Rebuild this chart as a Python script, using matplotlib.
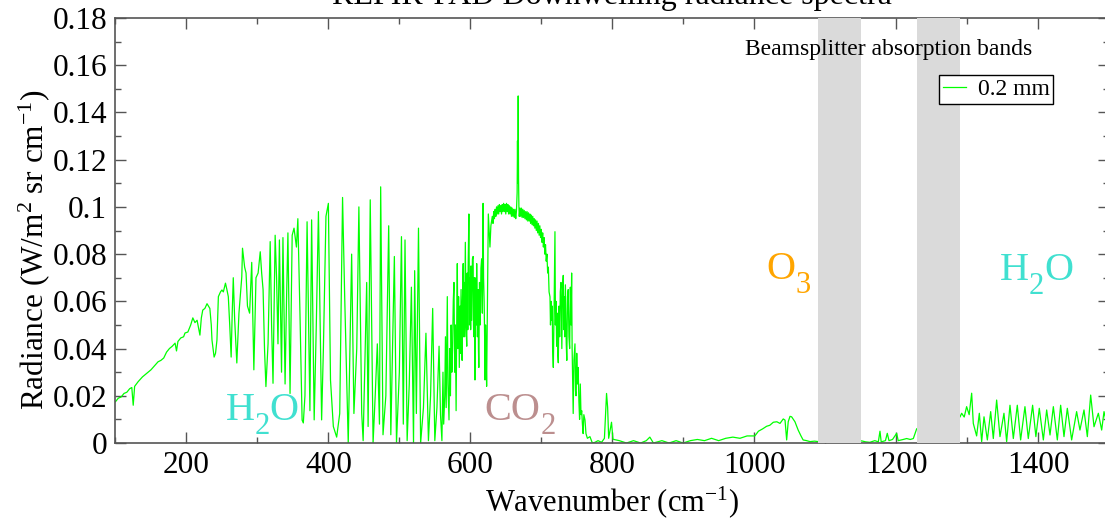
import matplotlib
matplotlib.use("Agg")
import matplotlib.pyplot as plt
import matplotlib.transforms as mtransforms
from matplotlib.ticker import MultipleLocator, FuncFormatter
from matplotlib.lines import Line2D

plt.rcParams['font.family'] = ['Liberation Serif', 'DejaVu Serif']
plt.rcParams['mathtext.fontset'] = 'custom'
plt.rcParams['mathtext.rm'] = 'Liberation Serif'
plt.rcParams['mathtext.it'] = 'Liberation Serif:italic'

# Downwelling radiance spectrum (wavenumber in cm-1, radiance in W/m2 sr cm-1)
wavenumber = [
    100, 104, 108, 112, 116, 120, 123, 125, 127, 132, 138, 144, 150, 156, 160, 164, 168, 172,
    176, 180, 184, 186, 188, 192, 196, 198, 202, 206, 209, 212, 215, 219, 221, 223, 226, 229,
    231, 233, 235, 236, 239, 241, 243, 245, 248, 250, 252, 255, 257, 259, 261, 263, 264.5, 266,
    268, 271, 274, 278, 279, 282, 284, 286, 289, 292, 295, 298, 301, 304, 306, 308, 310, 312,
    315, 318, 320, 322, 325, 327, 329, 331, 334, 336, 339, 341, 343, 346, 349, 351.6, 355, 357,
    360, 363, 364.7, 367, 370, 374, 376.4, 380, 383, 386, 390.5, 393, 396.6, 400, 403, 407,
    411.7, 416, 420, 423, 428, 432.8, 436, 440, 443, 447, 449, 454, 456, 459, 463, 466, 469,
    472, 473.7, 477, 481, 485, 488, 493, 496, 500, 503, 505.6, 508, 511, 514, 517, 520, 521.6,
    524, 527, 530, 534, 537.5, 541, 544, 547, 550, 553, 556, 558, 560, 561.5, 562.5, 564, 565,
    566, 567.6, 568.5, 570, 571, 572, 573, 574,
    575, 576, 577, 578, 579, 580, 581, 581.7, 582.5, 583.5, 584.5, 585.5, 586, 587, 588, 588.5,
    589, 590, 590.5, 591.5, 592, 593, 594, 595, 595.7, 596.5, 597, 598, 599, 600, 600.5, 601,
    602, 603, 604, 604.5, 605, 605.7, 606.6, 607.3, 608, 608.5, 609, 610, 611, 611.5, 612, 613,
    614, 615, 616, 617, 618, 618.7, 619.5, 620.2, 620.7, 621.5, 622.2, 623, 624.2,
    625.4, 626.5, 627.7, 629, 630, 631, 632, 633, 634, 635, 636, 637, 638, 639, 640, 641, 642,
    643, 644, 645, 646, 647, 648, 649, 650, 651, 652, 653, 654, 655, 656, 657, 658, 659, 660,
    661, 662, 663, 664, 665, 666, 666.5, 667, 667.5, 668, 668.5, 669, 670, 671, 672, 673, 674,
    675, 676, 677, 678, 679, 680, 681, 682, 683, 684, 685, 686, 687, 688, 689, 690, 691, 692,
    693, 694, 695, 696, 697, 698, 699, 700, 701, 702, 703, 704, 705, 706, 707, 708, 709, 710,
    711, 712.3, 713, 714, 714.6, 715.5, 716, 717, 718, 719.3, 720, 720.8, 721.7, 722.5, 723.2,
    724, 725, 726, 726.8, 727.8, 728.5, 729, 730, 731, 731.8, 732.5, 733, 734, 734.4, 735.2,
    736, 737, 738, 739, 740, 741, 742, 742.8, 743.5, 744, 745, 746, 747.5, 748.3, 749, 750,
    751, 752, 753, 754, 755, 756, 757, 758, 759, 760, 761.6, 763, 765, 768.6, 772, 775.7,
    780, 785, 789, 792, 793.5, 795, 799, 801, 810, 820, 830, 840, 848, 853, 858, 870, 880, 890,
    900, 910, 920, 930, 940, 950, 960, 970, 980, 990, 1001, 1006, 1012, 1017.6, 1022, 1027,
    1032, 1036.4, 1041, 1043.5, 1045.8, 1048, 1050.5, 1052.8, 1057.5, 1062, 1066, 1069, 1074,
    1078.7, 1085, 1090.4, 1100, 1120, 1140, 1151.5, 1157, 1163, 1170, 1175, 1177.3, 1179, 1185,
    1187.6, 1190, 1195, 1200.8, 1203, 1210, 1214.9, 1220, 1224.3, 1229, 1250, 1270, 1290,
    1292.4, 1296, 1299.4, 1303, 1306.5, 1308.8, 1313.5, 1317.3, 1320.6, 1323.9, 1328.6, 1333.3,
    1337, 1341.7, 1346.4, 1352, 1355.8, 1360.5, 1365.2, 1370.8, 1375.5, 1381.6, 1386.3, 1392.4,
    1397, 1401.8, 1407.5, 1412.2, 1416.9, 1421.6, 1427.2, 1431.9, 1436.6, 1441.3, 1447.4,
    1454.4, 1459.1, 1464.8, 1469.5, 1474.2, 1478.9, 1485, 1489.7, 1493, 1497, 1500,
]
radiance = [
    0.0175, 0.019, 0.0195, 0.021, 0.0215, 0.023, 0.0235, 0.016, 0.024, 0.026, 0.028, 0.0295,
    0.031, 0.033, 0.0344, 0.035, 0.036, 0.0385, 0.040, 0.041, 0.0423, 0.039, 0.043, 0.0445,
    0.045, 0.0466, 0.047, 0.050, 0.053, 0.051, 0.052, 0.0457, 0.053, 0.0563, 0.057, 0.059,
    0.058, 0.057, 0.050, 0.0436, 0.0364, 0.038, 0.0436, 0.062, 0.064, 0.0648, 0.064, 0.0677,
    0.065, 0.062, 0.050, 0.0364, 0.055, 0.070, 0.052, 0.0339, 0.055, 0.0704, 0.0825, 0.0745,
    0.072, 0.058, 0.055, 0.0765, 0.031, 0.070, 0.072, 0.081, 0.072, 0.065, 0.040, 0.0239,
    0.042, 0.0853, 0.050, 0.0253, 0.088, 0.070, 0.042, 0.086, 0.030, 0.087, 0.025, 0.060,
    0.089, 0.021, 0.088, 0.091, 0.083, 0.095, 0.0545, 0.0097, 0.0085, 0.020, 0.0937, 0.0137,
    0.0945, 0.0098, 0.050, 0.098, 0.0098, 0.040, 0.096, 0.1015, 0.0267, 0.007, 0.0025, 0.0125,
    0.104, 0.062, 0.000, 0.080, 0.0125, 0.040, 0.100, 0.0125, 0.001, 0.068, 0.007, 0.103,
    0.000, 0.020, 0.042, 0.008, 0.1085, 0.0035, 0.020, 0.092, 0.0035, 0.079, 0.000, 0.030,
    0.0874, 0.008, 0.086, 0.001, 0.025, 0.066, 0.000, 0.073, 0.0125, 0.091, 0.000, 0.015,
    0.0465, 0.001, 0.020, 0.057, 0.001, 0.015, 0.041, 0.012, 0.001, 0.030, 0.008, 0.020, 0.045,
    0.015, 0.062, 0.025, 0.0098, 0.040, 0.020, 0.050, 0.030,
    0.040, 0.060, 0.068, 0.030, 0.050, 0.0137, 0.055, 0.076, 0.040, 0.062, 0.032, 0.058,
    0.038, 0.065, 0.042, 0.035, 0.060, 0.076, 0.045, 0.068, 0.045, 0.085, 0.050, 0.041,
    0.072, 0.048, 0.075, 0.097, 0.050, 0.070, 0.048, 0.075, 0.052, 0.078, 0.079, 0.050,
    0.045, 0.070, 0.0267, 0.062, 0.070, 0.050, 0.076, 0.045, 0.065, 0.040, 0.032, 0.068,
    0.050, 0.074, 0.078, 0.055, 0.1015, 0.070, 0.060, 0.045, 0.0267, 0.050, 0.040, 0.024,
    0.060,
    0.097, 0.090, 0.083, 0.092, 0.094, 0.096, 0.093, 0.098, 0.095, 0.099, 0.096, 0.100,
    0.097, 0.1005, 0.097, 0.101, 0.098, 0.1005, 0.097, 0.101, 0.098, 0.1015, 0.098, 0.101,
    0.097, 0.1015, 0.098, 0.101, 0.097, 0.1005, 0.097, 0.100, 0.096, 0.0995, 0.096, 0.099,
    0.0955, 0.099, 0.095, 0.098, 0.106, 0.128, 0.110, 0.147, 0.112, 0.100, 0.096, 0.0995,
    0.096, 0.0995, 0.0955, 0.099, 0.0955, 0.0985, 0.095, 0.098, 0.0945, 0.098, 0.094,
    0.0975, 0.094, 0.097, 0.093, 0.0965, 0.0925, 0.096, 0.092, 0.095, 0.091, 0.0945, 0.090,
    0.094, 0.089, 0.093, 0.088, 0.092, 0.087, 0.0905, 0.085, 0.089, 0.083, 0.087, 0.080,
    0.084, 0.077, 0.080, 0.072, 0.0745, 0.064,
    0.0619, 0.050, 0.060, 0.052, 0.058, 0.040, 0.032, 0.055, 0.0895, 0.050, 0.060, 0.041,
    0.055, 0.038, 0.034, 0.058, 0.045, 0.064, 0.068, 0.050, 0.040, 0.066, 0.071, 0.048,
    0.062, 0.045, 0.067, 0.058, 0.042, 0.035, 0.062, 0.065, 0.045, 0.040, 0.066, 0.050,
    0.072, 0.040, 0.030, 0.0125, 0.035, 0.042, 0.022, 0.020, 0.038, 0.025, 0.032, 0.018,
    0.010, 0.025, 0.012, 0.0137, 0.008, 0.004, 0.012, 0.0098, 0.004, 0.002, 0.0027, 0.000,
    0.0003, 0.001,
    0.0003, 0.002, 0.021, 0.0152, 0.002, 0.0088, 0.0016, 0.001, 0.000, 0.001, 0.000, 0.001,
    0.0025, 0.000, 0.001, 0.000, 0.001, 0.000, 0.001, 0.0015, 0.001, 0.002, 0.001, 0.002,
    0.0025, 0.002, 0.003, 0.003, 0.005, 0.006, 0.0071, 0.0075, 0.0088, 0.009, 0.0083, 0.0102,
    0.0097, 0.0013, 0.009, 0.0113, 0.0111, 0.009, 0.0055, 0.003, 0.0013, 0.001, 0.0006,
    0.0008, 0.0006, 0.0005, 0.0005, 0.0006, 0.0009, 0.0005, 0.0003, 0.001, 0.0005, 0.005,
    0.0005, 0.001, 0.0041, 0.001, 0.0015, 0.0041, 0.001, 0.0015, 0.0019, 0.0015, 0.0019,
    0.006, 0.010, 0.012, 0.011, 0.0126, 0.011, 0.0154, 0.012, 0.0211, 0.0083, 0.003, 0.0126,
    0.0006, 0.0111, 0.0013, 0.0133, 0.0019, 0.0182, 0.0027, 0.0126, 0.0006, 0.016, 0.0019,
    0.016, 0.0013, 0.0154, 0.0019, 0.016, 0.0027, 0.0147, 0.0013, 0.014, 0.0034, 0.0154,
    0.0013, 0.016, 0.0027, 0.0147, 0.0013, 0.0133, 0.0055, 0.014, 0.0027, 0.0203, 0.0069,
    0.0126, 0.0055, 0.0133, 0.008, 0.009,
]

# Beamsplitter absorption bands (cm-1)
band_starts = [1090, 1230]
band_ends = [1150, 1290]

# Molecule labels: formula pieces (text, is_subscript), position, colour
mol_parts = [
    [('H', False), ('2', True), ('O', False)],
    [('CO', False), ('2', True)],
    [('O', False), ('3', True)],
    [('H', False), ('2', True), ('O', False)],
]
mol_x = [255, 620, 1017, 1346]
mol_y = [0.0097, 0.0097, 0.0695, 0.069]
mol_colors = ['#40e0d0', '#bc8f8f', '#ffa500', '#40e0d0']

fig = plt.figure(figsize=(11.05, 5.19), dpi=100)
fig.patch.set_facecolor('white')
ax = fig.add_axes([0.1045, 0.1464, 0.8991, 0.8189])

ax.plot(wavenumber, radiance, color='#00ff00', lw=0.9, zorder=2)

for s, e in zip(band_starts, band_ends):
    ax.axvspan(s, e, color='#dadada', lw=0, zorder=3)

ax.set_xlim(100, 1500)
ax.set_ylim(0, 0.18)

renderer = fig.canvas.get_renderer()


def draw_formula(x, y, parts, color, size=29, subsize=22, drop=14):
    """Write a chemical formula piece by piece with lowered subscripts."""
    advance = 0.0
    for txt, is_sub in parts:
        tr = mtransforms.offset_copy(ax.transData, fig=fig, x=advance,
                                     y=-drop if is_sub else 0, units='dots')
        t = ax.text(x, y, txt, color=color, fontsize=subsize if is_sub else size,
                    ha='left', va='baseline', transform=tr, zorder=4)
        advance += t.get_window_extent(renderer).width


for parts, x, y, c in zip(mol_parts, mol_x, mol_y, mol_colors):
    draw_formula(x, y, parts, c)

ax.text(1190, 0.1645, 'Beamsplitter absorption bands', fontsize=17,
        ha='center', va='baseline', zorder=4)

ax.xaxis.set_major_locator(MultipleLocator(200))
ax.xaxis.set_minor_locator(MultipleLocator(100))
ax.yaxis.set_major_locator(MultipleLocator(0.02))
ax.yaxis.set_minor_locator(MultipleLocator(0.01))
ax.yaxis.set_major_formatter(FuncFormatter(lambda v, p: '%g' % round(v, 4)))

ax.tick_params(which='both', direction='in', top=True, right=True,
               labelsize=22.5, color='#555555')
ax.tick_params(which='major', length=8, width=1, pad=6)
ax.tick_params(which='minor', length=4.3, width=1)
for sp in ax.spines.values():
    sp.set_color('#555555')
    sp.set_linewidth(1.2)

ax.set_xlabel(r'Wavenumber (cm$^{-1}$)', fontsize=22, labelpad=3)
ax.set_ylabel(r'Radiance (W/m$^2$ sr cm$^{-1}$)', fontsize=22.5)
ax.yaxis.set_label_coords(-0.064, 0.454)

fig.text(0.5535, 1 - 4 / 519, 'REFIR-PAD Downwelling radiance spectra',
         fontsize=23, ha='center', va='baseline')

handle = Line2D([], [], color='#00ff00', lw=0.9)
leg = ax.legend([handle], ['0.2 mm'], loc='upper left',
                bbox_to_anchor=((939 - 115.5) / 993.5, (443 - 75) / 425),
                fontsize=17, frameon=True, fancybox=False, edgecolor='black',
                framealpha=1, handlelength=1.0, handletextpad=0.5,
                borderpad=0.15, borderaxespad=0)
leg.get_frame().set_linewidth(1.0)
leg.set_zorder(5)

fig.savefig('out.png', dpi=100, facecolor=fig.get_facecolor())
